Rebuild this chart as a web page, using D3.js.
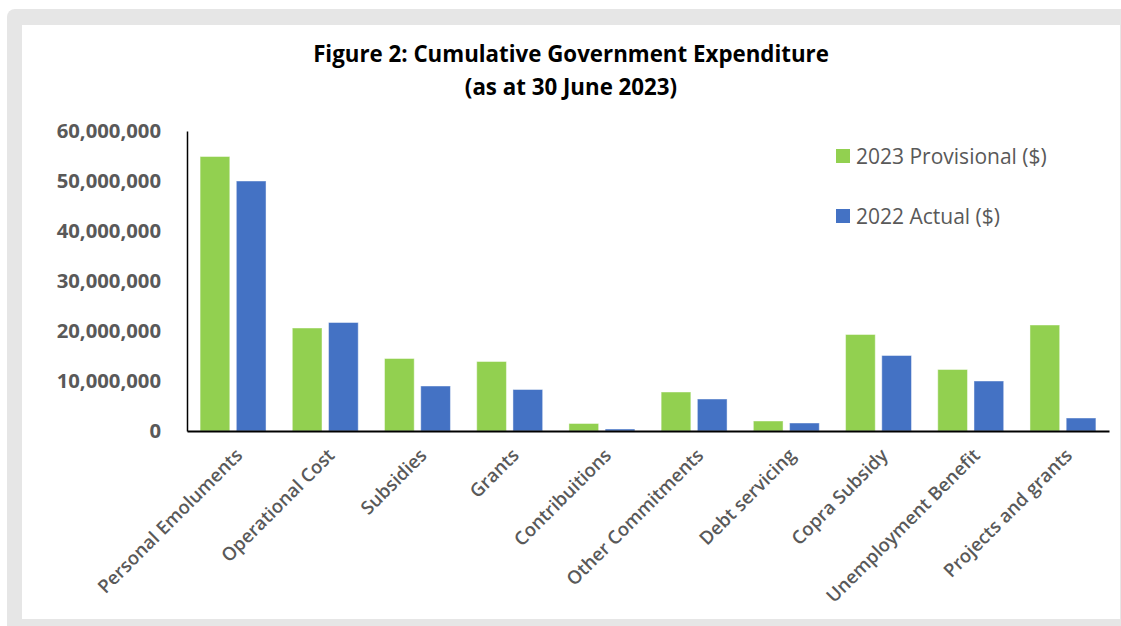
<!DOCTYPE html>
<html>
<head>
<meta charset="utf-8">
<script src="https://cdn.jsdelivr.net/npm/d3@7"></script>
<style>
  html, body { margin: 0; padding: 0; background: #ffffff; }
  svg { display: block; }
</style>
</head>
<body>
<svg id="chart" width="1121" height="626"></svg>
<script>
const categories = ["Personal Emoluments", "Operational Cost", "Subsidies", "Grants", "Contribuitions",
  "Other Commitments", "Debt servicing", "Copra Subsidy", "Unemployment Benefit", "Projects and grants"];
const seriesNames = ["2023 Provisional ($)", "2022 Actual ($)"];
const provisional2023 = [54900000, 20600000, 14500000, 13900000, 1500000, 7800000, 2000000, 19300000, 12300000, 21200000];
const actual2022 = [50000000, 21700000, 9000000, 8300000, 400000, 6400000, 1600000, 15100000, 10000000, 2600000];
const yTicks = [0, 10000000, 20000000, 30000000, 40000000, 50000000, 60000000];
const titleLines = ["Figure 2: Cumulative Government Expenditure", "(as at 30 June 2023)"];
const colors = ["#92d050", "#4472c4"];

(function () {
const svg = d3.select("#chart");
const FONT = "'Open Sans', 'Liberation Sans', sans-serif";

// background frame
svg.append("rect").attr("x", 7).attr("y", 9).attr("width", 1130).attr("height", 630)
  .attr("rx", 8).attr("fill", "#e6e6e6");
svg.append("rect").attr("x", 22).attr("y", 25).attr("width", 1098).attr("height", 594)
  .attr("fill", "#ffffff");

const pl = 187, pr = 1109, pt = 131, pb = 431;

const x0 = d3.scaleBand().domain(categories).range([pl, pr])
  .paddingInner(0.285).paddingOuter(0.142);
const x1 = d3.scaleBand().domain(seriesNames).range([0, x0.bandwidth()]).paddingInner(0.18);
const y = d3.scaleLinear().domain([0, 60000000]).range([pb, pt]);

const data = categories.map((c, i) => ({ cat: c, vals: [provisional2023[i], actual2022[i]] }));

// bars
const g = svg.append("g");
data.forEach(d => {
  d.vals.forEach((v, j) => {
    g.append("rect")
      .attr("x", x0(d.cat) + x1(seriesNames[j]))
      .attr("y", y(v))
      .attr("width", x1.bandwidth())
      .attr("height", y(0) - y(v))
      .attr("fill", colors[j])
      .attr("stroke", "#ffffff").attr("stroke-opacity", 0.45).attr("stroke-width", 1);
  });
});

// y axis
const yAxis = d3.axisLeft(y).tickValues(yTicks).tickSize(0).tickPadding(26)
  .tickFormat(d3.format(","));
const ya = svg.append("g").attr("transform", `translate(${pl},0)`).call(yAxis);
ya.select(".domain").attr("stroke", "#000").attr("stroke-width", 1.5);
ya.selectAll("text").attr("font-family", FONT).attr("font-size", "20.3px")
  .attr("font-weight", "bold").attr("fill", "#595959");

// x axis
const xAxis = d3.axisBottom(x0).tickSize(0).tickPadding(0);
const xa = svg.append("g").attr("transform", `translate(0,${pb})`).call(xAxis);
xa.select(".domain").attr("stroke", "#000").attr("stroke-width", 2);
xa.selectAll("text")
  .attr("font-family", FONT).attr("font-size", "18.5px").attr("font-weight", 600)
  .attr("fill", "#595959")
  .attr("text-anchor", "end")
  .attr("dy", null).attr("y", null)
  .attr("transform", "translate(7,22) rotate(-45)")
  .attr("dominant-baseline", "middle");

// title
svg.append("text").attr("x", 571).attr("y", 62).attr("text-anchor", "middle")
  .attr("font-family", FONT).attr("font-size", "22.3px").attr("font-weight", "bold")
  .attr("fill", "#000").text(titleLines[0]);
svg.append("text").attr("x", 571).attr("y", 95).attr("text-anchor", "middle")
  .attr("font-family", FONT).attr("font-size", "22.3px").attr("font-weight", "bold")
  .attr("fill", "#000").text(titleLines[1]);

// legend
const legendY = [156, 216];
seriesNames.forEach((s, j) => {
  svg.append("rect").attr("x", 836).attr("y", legendY[j] - 7).attr("width", 14).attr("height", 14)
    .attr("fill", colors[j]);
  svg.append("text").attr("x", 856).attr("y", legendY[j]).attr("dominant-baseline", "central")
    .attr("font-family", FONT).attr("font-size", "21px").attr("fill", "#595959").text(s);
});
})();
</script>
</body>
</html>
